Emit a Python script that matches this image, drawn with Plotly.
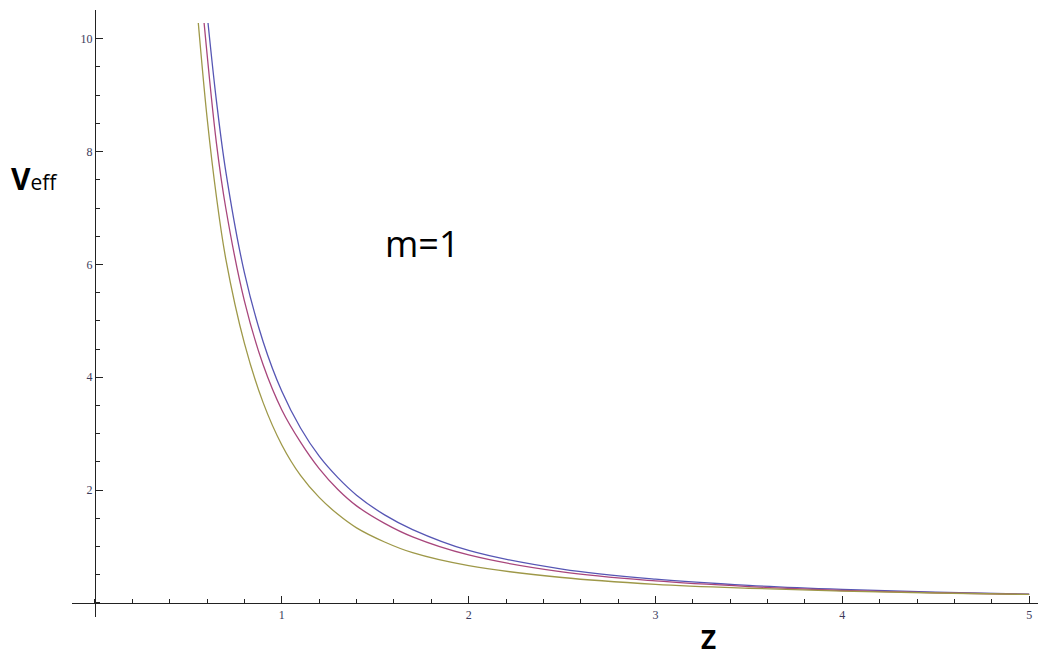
import plotly.graph_objects as go

# values (z, V_eff) for the three curves
z_blue = [0.605, 0.65, 0.70, 0.80, 0.90, 1.00, 1.10, 1.20, 1.30, 1.40, 1.55, 1.70, 2.00, 2.50, 3.00, 3.50, 4.00, 4.50, 5.00]
v_blue = [10.28, 8.9, 7.65, 5.85, 4.63, 3.75, 3.1, 2.6, 2.22, 1.91, 1.56, 1.30, 0.93, 0.60, 0.42, 0.31, 0.24, 0.19, 0.155]

z_purple = [0.584, 0.65, 0.70, 0.80, 0.90, 1.00, 1.10, 1.20, 1.30, 1.40, 1.55, 1.70, 2.00, 2.50, 3.00, 3.50, 4.00, 4.50, 5.00]
v_purple = [10.28, 8.15, 7.0, 5.35, 4.22, 3.42, 2.85, 2.38, 2.01, 1.72, 1.41, 1.17, 0.85, 0.55, 0.39, 0.29, 0.22, 0.18, 0.15]

z_olive = [0.553, 0.60, 0.65, 0.70, 0.80, 0.90, 1.00, 1.10, 1.20, 1.30, 1.40, 1.55, 1.70, 2.00, 2.50, 3.00, 3.50, 4.00, 4.50, 5.00]
v_olive = [10.28, 8.6, 7.2, 6.1, 4.6, 3.55, 2.8, 2.26, 1.87, 1.57, 1.33, 1.08, 0.89, 0.66, 0.45, 0.33, 0.26, 0.21, 0.175, 0.15]

x_ticks = [1, 2, 3, 4, 5]
y_ticks = [2, 4, 6, 8, 10]

curves = [
    (z_blue, v_blue, '#5656b4'),
    (z_purple, v_purple, '#a8467c'),
    (z_olive, v_olive, '#9e9848'),
]

fig = go.Figure()
for zs, vs, c in curves:
    fig.add_trace(go.Scatter(
        x=zs, y=vs, mode='lines',
        line=dict(color=c, width=1.3, shape='spline', smoothing=1.0),
        showlegend=False,
    ))

axis_col = '#222222'
tick_font = dict(family='Liberation Serif', size=12, color='#3a3a5a')

# page body has an 8px default margin, so the figure is shrunk by that much
fig.update_layout(
    width=1038, height=650,
    margin=dict(l=64, r=0, t=2, b=41),
    plot_bgcolor='white', paper_bgcolor='white',
    xaxis=dict(
        range=[-0.123, 5.09], showgrid=False, zeroline=False, automargin=False,
        showline=True, linecolor=axis_col, linewidth=1.3,
        anchor='free', position=0.023,
        tickvals=x_ticks, ticks='inside', ticklen=7, tickwidth=1.2,
        tickcolor=axis_col, tickfont=tick_font,
        minor=dict(dtick=0.2, tick0=0, ticks='inside', ticklen=4,
                   tickwidth=1.1, tickcolor=axis_col, showgrid=False),
    ),
    yaxis=dict(
        range=[-0.25, 10.51], showgrid=False, zeroline=False, automargin=False,
        showline=True, linecolor=axis_col, linewidth=1.3,
        anchor='free', position=0.0236,
        tickvals=y_ticks, ticks='inside', ticklen=7, tickwidth=1.2,
        tickcolor=axis_col, tickfont=tick_font,
        minor=dict(dtick=0.5, tick0=0, ticks='inside', ticklen=4,
                   tickwidth=1.1, tickcolor=axis_col, showgrid=False),
    ),
    annotations=[
        dict(x=-0.038, y=0.723, xref='paper', yref='paper', showarrow=False,
             xanchor='center', yanchor='middle',
             text="<b>V</b><span style='font-size:21px'>eff</span>",
             font=dict(family='Open Sans', size=30, color='black')),
        dict(x=0.36, y=0.616, xref='paper', yref='paper', showarrow=False,
             xanchor='center', yanchor='middle',
             text='m=1', font=dict(family='Open Sans', size=36, color='black')),
        dict(x=0.654, y=-0.036, xref='paper', yref='paper', showarrow=False,
             xanchor='center', yanchor='middle',
             text='<b>Z</b>', font=dict(family='Open Sans', size=26, color='black')),
    ],
)

fig.write_html("out.html")
